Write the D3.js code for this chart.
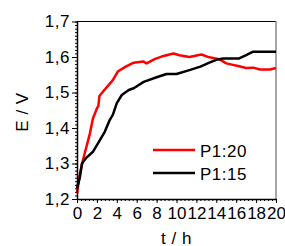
<!DOCTYPE html>
<html>
	<head>
		<meta charset="utf-8">
		<title> E vs t </title>
		<style>
			body { margin: 0; background: #fff; }
			text { font-family: "Liberation Sans", Arial, sans-serif; letter-spacing: 0.5px; }
		</style>
	</head>
	<body>
		<script src="https://d3js.org/d3.v7.min.js"></script>
		<script>
			// data
			var seriesNames = ["P1:20", "P1:15"];
			var seriesColors = ["#ff0000", "#000000"];
			var tRed = [0, 0.3, 0.6, 1.3, 1.6, 2.0, 2.15, 2.25, 2.9, 3.6, 4.1, 4.9, 5.7, 6.7, 7.0, 7.8, 8.7, 9.7, 10.3, 11.3, 12.5, 13.3, 14.3, 15.0, 16.3, 17.0, 17.7, 18.4, 19.4, 20];
			var eRed = [1.216, 1.272, 1.31, 1.385, 1.427, 1.455, 1.462, 1.49, 1.512, 1.535, 1.559, 1.573, 1.584, 1.587, 1.582, 1.594, 1.603, 1.61, 1.605, 1.6, 1.607, 1.599, 1.594, 1.582, 1.574, 1.569, 1.57, 1.565, 1.565, 1.569];
			var tBlack = [0, 0.3, 0.5, 0.9, 1.6, 2.3, 2.8, 3.3, 3.6, 4.0, 4.5, 5.2, 5.7, 6.7, 8.0, 9.0, 10.0, 11.3, 12.4, 13.3, 14.0, 14.7, 16.3, 17.0, 17.7, 20];
			var eBlack = [1.23, 1.263, 1.30, 1.315, 1.333, 1.366, 1.39, 1.423, 1.437, 1.47, 1.493, 1.507, 1.512, 1.53, 1.543, 1.552, 1.552, 1.563, 1.573, 1.584, 1.592, 1.596, 1.596, 1.605, 1.615, 1.615];
			var xTicks = [0, 2, 4, 6, 8, 10, 12, 14, 16, 18, 20];
			var yTicks = [1.2, 1.3, 1.4, 1.5, 1.6, 1.7];

			var margin = {top: 21.5, right: 9, bottom: 47, left: 77};
			var width = 285 - margin.left - margin.right,
				height = 246 - margin.top - margin.bottom;

			var xScale = d3.scaleLinear().domain([0, 20]).range([0, width]);
			var yScale = d3.scaleLinear().domain([1.2, 1.7]).range([height, 0]);

			var svg = d3.select("body").append("svg")
				.attr("width", 285)
				.attr("height", 246)
				.append("g")
				.attr("transform", "translate(" + margin.left + "," + margin.top + ")");

			// frame: top black, right grey
			svg.append("line").attr("x1", 0).attr("x2", width).attr("y1", 0).attr("y2", 0)
				.attr("stroke", "#000").attr("stroke-width", 1);
			svg.append("line").attr("x1", width).attr("x2", width).attr("y1", 0).attr("y2", height)
				.attr("stroke", "#888").attr("stroke-width", 1.5);

			// minor ticks
			svg.append("g")
				.attr("transform", "translate(0," + height + ")")
				.call(d3.axisBottom(xScale).tickValues(d3.range(0, 20.01, 0.4)).tickSize(2).tickFormat(""))
				.call(function(g) { g.select(".domain").remove(); });
			svg.append("g")
				.call(d3.axisLeft(yScale).tickValues(d3.range(1.2, 1.7001, 0.01)).tickSize(2).tickFormat(""))
				.call(function(g) { g.select(".domain").remove(); });

			// line generator
			var line = d3.line()
				.x(function(d) { return xScale(d[0]); })
				.y(function(d) { return yScale(d[1]); });

			var series = [d3.zip(tRed, eRed), d3.zip(tBlack, eBlack)];
			svg.selectAll(".curve")
				.data(series)
				.enter().append("path")
				.attr("class", "curve")
				.attr("d", line)
				.attr("fill", "none")
				.attr("stroke", function(d, i) { return seriesColors[i]; })
				.attr("stroke-width", 2.5)
				.attr("stroke-linejoin", "round");

			// major axes
			var xAxis = svg.append("g")
				.attr("transform", "translate(0," + height + ")")
				.call(d3.axisBottom(xScale).tickValues(xTicks).tickSize(4).tickPadding(4).tickSizeOuter(0));
			var yAxis = svg.append("g")
				.call(d3.axisLeft(yScale).tickValues(yTicks).tickSize(5).tickPadding(2).tickSizeOuter(0)
					.tickFormat(function(d) { return d.toFixed(1).replace(".", ","); }));
			[xAxis, yAxis].forEach(function(a) {
				a.selectAll("text").style("font-size", "17px").attr("fill", "#000");
				a.select(".domain").attr("stroke-width", 1.5);
			});
			xAxis.selectAll("text").style("letter-spacing", "0px");

			// axis titles
			svg.append("text")
				.attr("text-anchor", "middle")
				.style("font-size", "17px")
				.attr("x", width / 2)
				.attr("y", height + 44.5)
				.text("t / h");
			svg.append("text")
				.attr("text-anchor", "middle")
				.style("font-size", "17px")
				.attr("transform", "translate(" + (28 - margin.left) + "," + (112 - margin.top) + ") rotate(-90)")
				.text("E / V");

			// legend
			var legend = svg.selectAll(".legend")
				.data(seriesNames)
				.enter().append("g")
				.attr("class", "legend")
				.attr("transform", function(d, i) { return "translate(" + (153 - margin.left) + "," + (150 + i * 23 - margin.top) + ")"; });
			legend.append("line")
				.attr("x1", 0).attr("x2", 42)
				.attr("stroke", function(d, i) { return seriesColors[i]; })
				.attr("stroke-width", 2.5);
			legend.append("text")
				.attr("x", 47)
				.attr("dy", "0.44em")
				.style("font-size", "17px")
				.text(function(d) { return d; });
		</script>
	</body>
</html>
